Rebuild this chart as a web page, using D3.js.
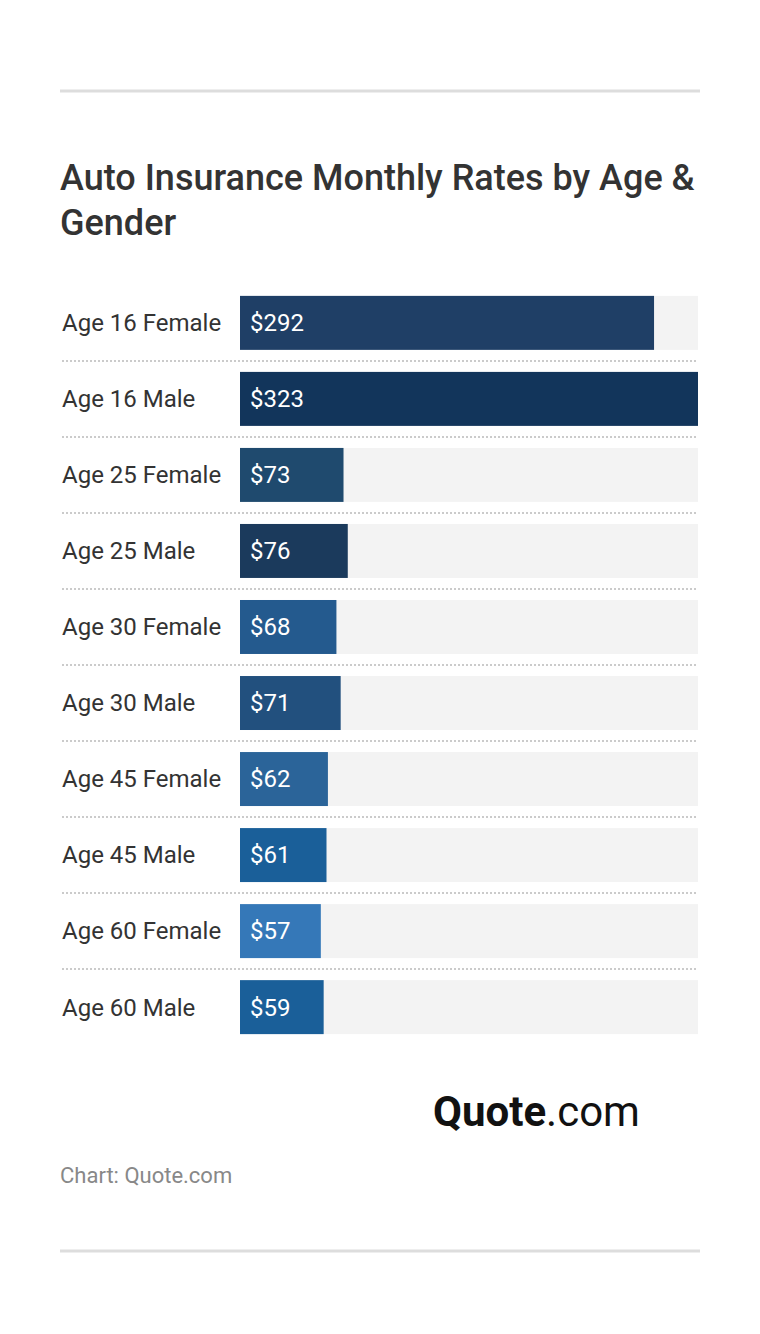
<!DOCTYPE html>
<html><head><meta charset="utf-8">
<script src="https://cdn.jsdelivr.net/npm/d3@7"></script>
<style>body{margin:0;background:#fff;font-family:Roboto,sans-serif}</style>
</head><body><div id="chart"></div>
<script>
"use strict";

var categories = ["Age 16 Female","Age 16 Male","Age 25 Female","Age 25 Male","Age 30 Female",
  "Age 30 Male","Age 45 Female","Age 45 Male","Age 60 Female","Age 60 Male"];
var rates = [292, 323, 73, 76, 68, 71, 62, 61, 57, 59];
var barColors = ["#1f3f66","#12355b","#1f4a6e","#1b3a5c","#245a8e",
  "#22507e","#2b6499","#1a5f99","#3578b8","#1a5f99"];

var svg = d3.select("#chart").append("svg").attr("width", 760).attr("height", 1334);

// top and bottom rules
[91, 1251].forEach(function(y){
  svg.append("rect").attr("x", 60).attr("y", y - 1.5).attr("width", 640).attr("height", 3).attr("fill", "#ddd");
});

// title
svg.append("text").attr("x", 60).attr("y", 190).attr("font-size", 36).attr("font-weight", 500)
  .attr("fill", "#333").text("Auto Insurance Monthly Rates by Age &");
svg.append("text").attr("x", 60).attr("y", 235).attr("font-size", 36).attr("font-weight", 500)
  .attr("fill", "#333").text("Gender");

// scales
var x = d3.scaleLinear().domain([0, 323]).range([240, 698]);
var y = d3.scaleBand().domain(categories).range([286, 1044]).paddingInner(0.29).paddingOuter(0.13);

var rows = svg.selectAll(".row").data(categories).enter().append("g").attr("class", "row");

rows.append("rect").attr("x", x(0)).attr("y", function(d){ return y(d); })
  .attr("width", x(323) - x(0)).attr("height", y.bandwidth()).attr("fill", "#f3f3f3");

rows.append("rect").attr("x", x(0)).attr("y", function(d){ return y(d); })
  .attr("width", function(d, i){ return x(rates[i]) - x(0); })
  .attr("height", y.bandwidth()).attr("fill", function(d, i){ return barColors[i]; });

rows.append("text").attr("x", 62).attr("y", function(d){ return y(d) + y.bandwidth() / 2; })
  .attr("dy", "0.35em").attr("font-size", 24).attr("fill", "#333").text(function(d){ return d; });

rows.append("text").attr("x", 250).attr("y", function(d){ return y(d) + y.bandwidth() / 2; })
  .attr("dy", "0.35em").attr("font-size", 24).attr("fill", "#fff")
  .text(function(d, i){ return "$" + rates[i]; });

// dotted separators
categories.slice(0, -1).forEach(function(d){
  var yy = y(d) + y.bandwidth() + (y.step() - y.bandwidth()) / 2;
  svg.append("line").attr("x1", 62).attr("x2", 698).attr("y1", yy).attr("y2", yy)
    .attr("stroke", "#bbb").attr("stroke-width", 1.5).attr("stroke-dasharray", "2,2");
});

// logo
var logo = svg.append("text").attr("x", 433).attr("y", 1126).attr("font-size", 42).attr("fill", "#111");
logo.append("tspan").attr("font-weight", 700).text("Quote");
logo.append("tspan").attr("font-weight", 400).text(".com");

svg.append("text").attr("x", 60).attr("y", 1183).attr("font-size", 22).attr("fill", "#888").text("Chart: Quote.com");
</script></body></html>
